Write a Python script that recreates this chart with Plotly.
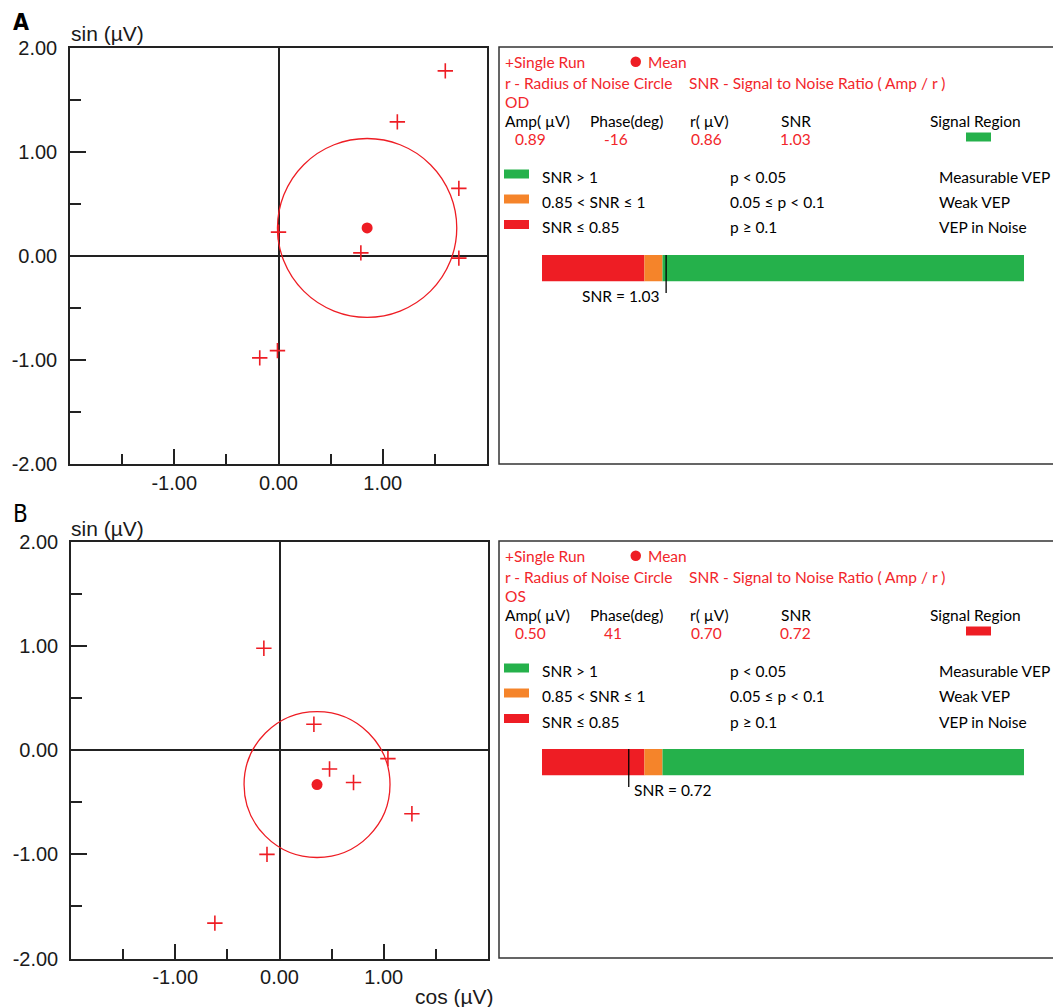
import plotly.graph_objects as go

W, H = 1061, 1007
OFF = 8  # page body margin compensation

# ---------------- data ----------------
# Panel A (OD) single runs (cos, sin) in µV
od_run_cos = [1.60, 1.14, 1.73, 0.00, 0.79, 1.73, -0.01, -0.18]
od_run_sin = [1.78, 1.29, 0.65, 0.23, 0.03, -0.02, -0.91, -0.98]
od_mean = [0.85, 0.27]
od_stats = {"eye": "OD", "amp": 0.89, "phase": -16, "r": 0.86, "snr": 1.03}

# Panel B (OS)
os_run_cos = [-0.15, 0.33, 0.48, 0.71, 1.04, 1.27, -0.12, -0.62]
os_run_sin = [0.98, 0.25, -0.18, -0.31, -0.08, -0.61, -1.00, -1.66]
os_mean = [0.36, -0.33]
os_stats = {"eye": "OS", "amp": 0.50, "phase": 41, "r": 0.70, "snr": 0.72}

axis_vals = [-2, -1, 0, 1, 2]
axis_text = ["-2.00", "-1.00", "0.00", "1.00", "2.00"]
x_label_vals = [-1, 0, 1, 2]
x_label_text = ["-1.00", "0.00", "1.00", ""]
minor_vals = [-1.5, -0.5, 0.5, 1.5]

snr_edges = [0.0, 0.85, 1.0, 4.0]
legend_col1 = ["SNR > 1", "0.85 < SNR ≤ 1", "SNR ≤ 0.85"]
legend_col2 = ["p < 0.05", "0.05 ≤ p < 0.1", "p ≥ 0.1"]
legend_col3 = ["Measurable VEP", "Weak VEP", "VEP in Noise"]
header_labels = ["Amp( µV)", "Phase(deg)", "r( µV)", "SNR", "Signal Region"]

# ---------------- style ----------------
RED = "#EE1D24"
TXT_RED = "#F2262B"
ORANGE = "#F5842A"
GREEN = "#25B14B"
DARK = "#222222"
region_colors = [RED, ORANGE, GREEN]          # low -> high SNR
legend_colors = [GREEN, ORANGE, RED]          # legend order
AX_FONT = dict(family="Liberation Sans, Arial, sans-serif", size=20, color="#1a1a1a")
PANEL_FONT = "Lato, Calibri, sans-serif"
PFS = 15.5


def px(x):
    return (x - OFF) / W


def py(y):
    return 1 - (y - OFF) / H


fig = go.Figure()
annotations = []
shapes = []


def scatter_axes(xdom_px, ydom_px, anchor_y, anchor_x):
    xa = dict(domain=[px(xdom_px[0]), px(xdom_px[1])], range=[-2, 2], anchor=anchor_y,
              tickmode="array", tickvals=x_label_vals, ticktext=x_label_text,
              ticks="inside", ticklen=15, tickwidth=1.5, tickcolor=DARK,
              minor=dict(tickmode="array", tickvals=minor_vals, ticks="inside",
                         ticklen=10, tickwidth=1.5, tickcolor=DARK, showgrid=False),
              showline=True, linecolor=DARK, linewidth=1.5, mirror=True,
              showgrid=False, zeroline=True, zerolinecolor=DARK, zerolinewidth=1.5,
              tickfont=AX_FONT, automargin=False, fixedrange=True)
    ya = dict(domain=[py(ydom_px[1]), py(ydom_px[0])], range=[-2, 2], anchor=anchor_x,
              tickmode="array", tickvals=axis_vals, ticktext=axis_text,
              ticks="inside", ticklen=16, tickwidth=1.5, tickcolor=DARK,
              minor=dict(tickmode="array", tickvals=minor_vals, ticks="inside",
                         ticklen=11, tickwidth=1.5, tickcolor=DARK, showgrid=False),
              showline=True, linecolor=DARK, linewidth=1.5, mirror=True,
              showgrid=False, zeroline=True, zerolinecolor=DARK, zerolinewidth=1.5,
              tickfont=AX_FONT, ticklabelstandoff=7, automargin=False, fixedrange=True)
    return xa, ya


def add_scatter(runs_c, runs_s, mean, r, xname, yname):
    fig.add_trace(go.Scatter(x=runs_c, y=runs_s, mode="markers", xaxis=xname, yaxis=yname,
                             marker=dict(symbol="cross-thin", size=11,
                                         line=dict(color=RED, width=1.6)),
                             showlegend=False, hoverinfo="skip"))
    fig.add_trace(go.Scatter(x=[mean[0]], y=[mean[1]], mode="markers", xaxis=xname, yaxis=yname,
                             marker=dict(symbol="circle", size=11, color=RED),
                             showlegend=False, hoverinfo="skip"))
    shapes.append(dict(type="circle", xref=xname, yref=yname,
                       x0=mean[0] - r, x1=mean[0] + r, y0=mean[1] - r, y1=mean[1] + r,
                       line=dict(color=RED, width=1.3), layer="above"))


def text(x, y, s, color="black", size=PFS, anchor="left", family=PANEL_FONT):
    annotations.append(dict(xref="paper", yref="paper", x=px(x), y=py(y), text=s,
                            showarrow=False, xanchor=anchor, yanchor="middle",
                            font=dict(family=family, size=size, color=color)))


def add_panel(dy, st, xname, yname, label_side):
    # frame
    shapes.append(dict(type="rect", xref="paper", yref="paper",
                       x0=px(499), x1=px(1075), y0=py(464 + dy), y1=py(47 + dy),
                       line=dict(color="#333333", width=1.5)))
    text(503, 62 + dy, "+Single Run", TXT_RED)
    shapes.append(dict(type="circle", xref="paper", yref="paper",
                       x0=px(630.5), x1=px(641), y0=py(67 + dy), y1=py(56.5 + dy),
                       fillcolor=RED, line=dict(width=0)))
    text(646, 62 + dy, "Mean", TXT_RED)
    text(503, 83 + dy, "r - Radius of Noise Circle", TXT_RED)
    text(687, 83 + dy, "SNR - Signal to Noise Ratio ( Amp / r )", TXT_RED)
    text(503, 102 + dy, st["eye"], TXT_RED)
    hx = [503, 588, 688, 779, 928]
    for x, s in zip(hx, header_labels):
        text(x, 121 + dy, s)
    vals = [f"{st['amp']:.2f}", f"{st['phase']}", f"{st['r']:.2f}", f"{st['snr']:.2f}"]
    vx = [513, 602, 689, 778]
    for x, s in zip(vx, vals):
        text(x, 139 + dy, s, TXT_RED)
    # signal region swatch
    idx = sum(1 for e in snr_edges[1:-1] if st["snr"] > e)
    shapes.append(dict(type="rect", xref="paper", yref="paper",
                       x0=px(966), x1=px(991), y0=py(141.5 + dy), y1=py(132.5 + dy),
                       fillcolor=region_colors[idx], line=dict(width=0)))
    # legend rows
    rows_y = [177, 202, 227.5]
    for ry, c, a, b, d in zip(rows_y, legend_colors, legend_col1, legend_col2, legend_col3):
        shapes.append(dict(type="rect", xref="paper", yref="paper",
                           x0=px(504), x1=px(529), y0=py(ry + 1.5 + dy), y1=py(ry - 7.5 + dy),
                           fillcolor=c, line=dict(width=0)))
        text(540, ry + dy, a)
        text(728, ry + dy, b)
        text(937, ry + dy, d)
    # SNR bar
    starts = snr_edges[:-1]
    widths = [snr_edges[i + 1] - snr_edges[i] for i in range(len(starts))]
    fig.add_trace(go.Bar(x=widths, base=starts, y=[0, 0, 0], orientation="h", width=1,
                         marker=dict(color=region_colors, line=dict(width=0)),
                         xaxis=xname, yaxis=yname, showlegend=False, hoverinfo="skip"))
    shapes.append(dict(type="line", xref=xname, yref="paper",
                       x0=st["snr"], x1=st["snr"], y0=py(255 + dy), y1=py(293 + dy),
                       line=dict(color="black", width=1.3), layer="above"))
    annotations.append(dict(xref=xname, yref="paper", x=st["snr"], y=py(296 + dy),
                            text=f"SNR = {st['snr']:.2f}", showarrow=False,
                            xanchor=label_side, yanchor="middle",
                            xshift=-4 if label_side == "right" else 3,
                            font=dict(family=PANEL_FONT, size=PFS, color="black")))


xa1, ya1 = scatter_axes((70, 487), (48, 464), "y", "x")
xa2, ya2 = scatter_axes((71, 488), (542, 958.5), "y2", "x2")

add_scatter(od_run_cos, od_run_sin, od_mean, od_stats["r"], "x", "y")
add_scatter(os_run_cos, os_run_sin, os_mean, os_stats["r"], "x2", "y2")

bar_x = lambda: dict(domain=[px(542), px(1024)], range=[0, 4], visible=False,
                     fixedrange=True, automargin=False)
add_panel(0, od_stats, "x3", "y3", "right")
add_panel(494, os_stats, "x4", "y4", "left")

# axis titles and panel letters
text(69, 34, "sin (µV)", "#1a1a1a", 21, family=AX_FONT["family"])
text(69, 528, "sin (µV)", "#1a1a1a", 21, family=AX_FONT["family"])
text(413, 996, "cos (µV)", "#1a1a1a", 21, family=AX_FONT["family"])
text(11, 22, "<b>A</b>", "black", 23, family="Liberation Sans Narrow, DejaVu Sans Condensed, sans-serif")
text(11, 514, "B", "black", 24, family="Liberation Sans Narrow, DejaVu Sans Condensed, sans-serif")

fig.update_layout(
    template="none",
    width=W, height=H, margin=dict(l=0, r=0, t=0, b=0, pad=0, autoexpand=False),
    paper_bgcolor="white", plot_bgcolor="white", barmode="overlay",
    xaxis=xa1, yaxis=ya1, xaxis2=xa2, yaxis2=ya2,
    xaxis3=dict(bar_x(), anchor="y3"),
    yaxis3=dict(domain=[py(281.5), py(255)], range=[-0.5, 0.5], visible=False, anchor="x3",
                fixedrange=True, automargin=False),
    xaxis4=dict(bar_x(), anchor="y4"),
    yaxis4=dict(domain=[py(775.5), py(749)], range=[-0.5, 0.5], visible=False, anchor="x4",
                fixedrange=True, automargin=False),
    annotations=annotations, shapes=shapes, showlegend=False,
)

fig.write_html("out.html")
